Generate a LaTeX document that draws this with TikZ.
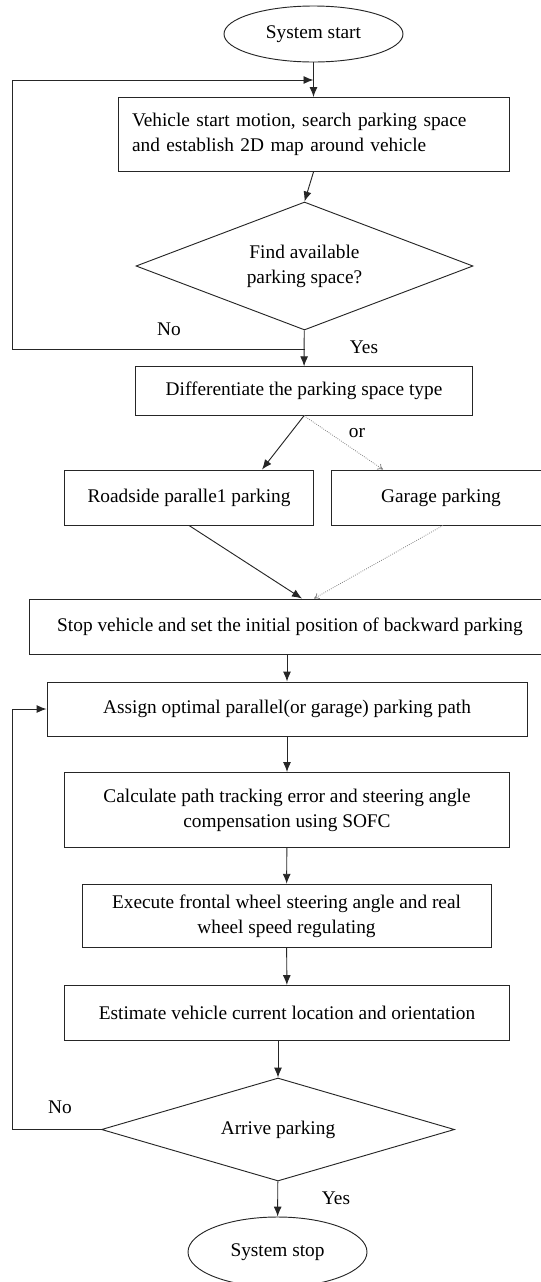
\documentclass[tikz,border=0pt]{standalone}
\usepackage{fontspec}
\setmainfont{Liberation Serif}
\usetikzlibrary{shapes.geometric,arrows.meta}

\newcommand{\px}{0.75pt}

\tikzset{
	proc/.style={draw, rectangle, inner sep=2pt, align=center},
	term/.style={draw, ellipse, inner sep=0pt},
	decide/.style={draw, diamond, inner sep=0pt, align=center},
	lbl/.style={inner sep=0pt},
	orline/.style={-{To[length=4pt,width=5pt]}, gray, densely dotted, line width=0.6pt},
}

\begin{document}
\begin{tikzpicture}[x=0.75pt, y=-0.75pt, >={Latex[length=7.5pt,width=6pt]}, line width=0.7pt, draw=black!85,
	font=\fontsize{14.5}{18.75}\selectfont]
	\useasboundingbox (0,0) rectangle (540,1282);

	\node[term, minimum width=179*\px, minimum height=56*\px] (start) at (313.5, 34) {System start};
	\node[proc, align=left, text width=363*\px, inner xsep=14*\px, minimum height=74*\px] (scan) at (313.5, 134.5)
		{Vehicle start motion, search parking space\\and establish 2D map around vehicle};
	\node[decide, shape aspect=2.6, minimum width=337*\px, minimum height=128*\px] (find) at (304.5, 266)
		{Find available\\parking space?};
	\node[proc, minimum width=337*\px, minimum height=48.5*\px] (type) at (304, 391) {Differentiate the parking space type};
	\node[proc, minimum width=249.5*\px, minimum height=55*\px] (road) at (189, 497.5) {Roadside paralle1 parking};
	\node[proc, minimum width=220*\px, minimum height=55*\px] (garage) at (441, 497.5) {Garage parking};
	\node[proc, minimum width=522*\px, minimum height=55*\px] (init) at (290, 626.5)
		{Stop vehicle and set the initial position of backward parking};
	\node[proc, minimum width=480*\px, minimum height=54*\px] (assign) at (287, 709)
		{Assign optimal parallel(or garage) parking path};
	\node[proc, minimum width=445*\px, minimum height=75*\px] (calc) at (287, 810)
		{Calculate path tracking error and steering angle\\compensation using SOFC};
	\node[proc, minimum width=409*\px, minimum height=63.5*\px] (exec) at (286.5, 916)
		{Execute frontal wheel steering angle and real\\wheel speed regulating};
	\node[proc, minimum width=445*\px, minimum height=55*\px] (est) at (287, 1013)
		{Estimate vehicle current location and orientation};
	\node[decide, shape aspect=3.4, minimum width=353*\px, minimum height=103*\px] (arrive) at (278, 1129.5) {Arrive parking};
	\node[term, minimum width=179*\px, minimum height=70*\px] (stop) at (277.5, 1252) {System stop};

	\coordinate (nofork) at (304.5, 349);
	\coordinate (loopin) at (313.5, 80);

	\node[lbl] (no1) at (169, 329) {No};
	\node[lbl] (yes1) at (364, 347.6) {Yes};
	\node[lbl] (or) at (357, 433) {or};
	\node[lbl] (no2) at (60, 1107) {No};
	\node[lbl] (yes2) at (336, 1198) {Yes};

	\draw[->] (start) -- (scan);
	\draw[->] (scan.south) -- (find.north);
	\draw[->] (find) -- (type);
	\draw[->] (nofork) -| (12, 80) -- (loopin);
	\draw[->] (type.south) -- ([xshift=54.75pt]road.north);
	\draw[orline] (type.south) -- ([xshift=-43.5pt]garage.north);
	\draw[->] (road.south) -- ([xshift=9pt]init.north);
	\draw[orline] ([xshift=1.5pt]garage.south) -- ([xshift=18pt]init.north);
	\draw[->] (init.south -| assign.north) -- (assign);
	\draw[->] (assign) -- (calc);
	\draw[->] (calc) -- (exec);
	\draw[->] (exec) -- (est);
	\draw[->] (est.south -| arrive.north) -- (arrive.north);
	\draw[->] (arrive) -- (stop);
	\draw[->] (arrive.west) -| (12, 709) -- (assign.west);
\end{tikzpicture}
\end{document}
